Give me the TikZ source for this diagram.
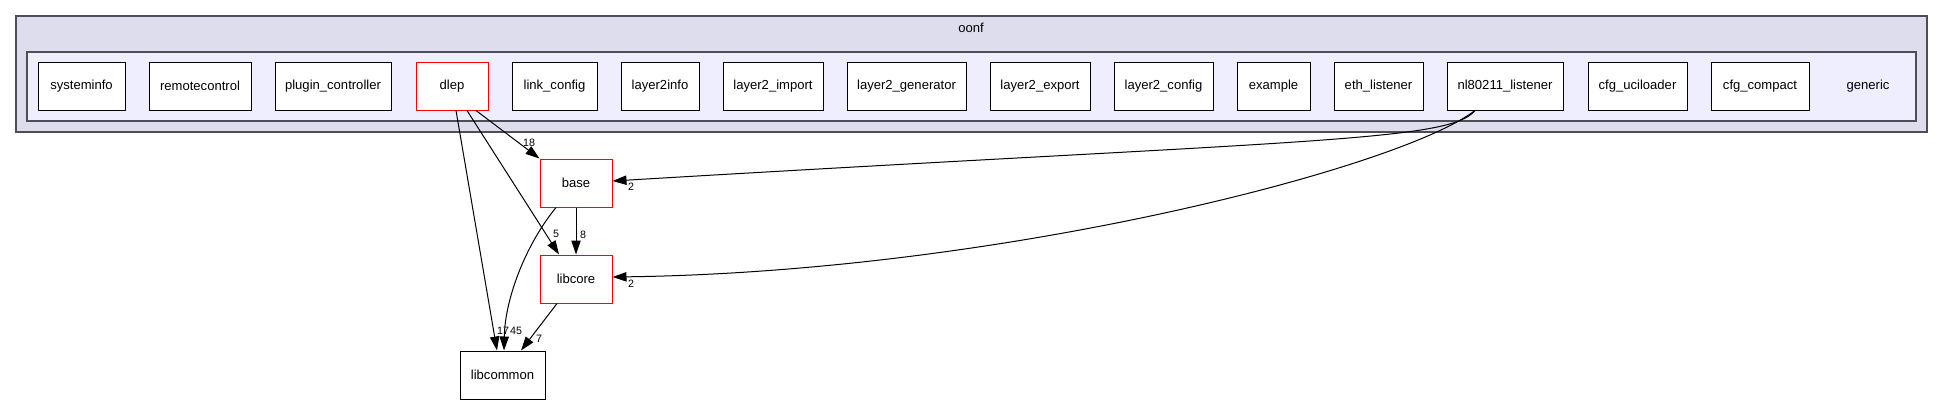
\documentclass[tikz,border=0pt]{standalone}
\usepackage{fontspec}
\setmainfont{Liberation Sans}
\usetikzlibrary{arrows.meta,calc}
\definecolor{outerfill}{HTML}{DDDDEE}
\definecolor{innerfill}{HTML}{EEEEFF}
\definecolor{clusterline}{HTML}{4E4E56}
\tikzset{
  dirbox/.style={draw=black, fill=white, line width=0.75pt, minimum height=36pt, inner sep=0pt, font=\fontsize{9.8}{12}\selectfont},
  reddir/.style={dirbox, draw=red},
  boxw/.style={minimum width=#1*0.75pt},
  cluster/.style={draw=clusterline, line width=1.1pt},
  dep/.style={line width=0.75pt, -{Triangle[length=10.5pt, width=7pt]}},
  num/.style={font=\fontsize{8}{9}\selectfont, inner sep=0pt},
}
\begin{document}
\begin{tikzpicture}[x=0.75pt, y=-0.75pt]
    \useasboundingbox (0,0) rectangle (1943,404);

    % Cluster oonf and inner cluster generic
    \draw[cluster, fill=outerfill] (16,16) rectangle (1927,132);
    \draw[cluster, fill=innerfill] (27,52) rectangle (1916,121);
    \node[font=\fontsize{9.8}{12}\selectfont] (oonf) at (971,28) {oonf};
    \node[font=\fontsize{9.8}{12}\selectfont] (generic) at (1868,86) {generic};

    % Directories inside generic
    \node[dirbox, boxw=87] (systeminfo) at (81.5,86) {systeminfo};
    \node[dirbox, boxw=102] (remotecontrol) at (200,86) {remotecontrol};
    \node[dirbox, boxw=116] (plugin) at (333,86) {plugin\_controller};
    \node[reddir, boxw=72] (dlep) at (452,86) {dlep};
    \node[dirbox, boxw=85] (linkcfg) at (554.5,86) {link\_config};
    \node[dirbox, boxw=78] (l2info) at (660,86) {layer2info};
    \node[dirbox, boxw=100] (l2import) at (773,86) {layer2\_import};
    \node[dirbox, boxw=119] (l2gen) at (906.5,86) {layer2\_generator};
    \node[dirbox, boxw=100] (l2export) at (1040,86) {layer2\_export};
    \node[dirbox, boxw=99] (l2config) at (1163.5,86) {layer2\_config};
    \node[dirbox, boxw=73] (example) at (1273.5,86) {example};
    \node[dirbox, boxw=89] (eth) at (1378.5,86) {eth\_listener};
    \node[dirbox, boxw=116] (nl) at (1505,86) {nl80211\_listener};
    \node[dirbox, boxw=99] (uciloader) at (1637.5,86) {cfg\_uciloader};
    \node[dirbox, boxw=98] (compact) at (1760,86) {cfg\_compact};

    % Directories below
    \node[reddir, boxw=72] (base) at (576,183) {base};
    \node[reddir, boxw=72] (libcore) at (576,279) {libcore};
    \node[dirbox, boxw=85] (libcommon) at (502.5,375) {libcommon};

    % dlep dependencies
    \draw[dep] ($(dlep.south)+(24,0)$) -- (base.north west);
    \draw[dep] ($(dlep.south)+(15,0)$) -- ($(libcore.north)+(-17,0)$);
    \draw[dep] ($(dlep.south)+(4,0)$) -- ($(libcommon.north)+(-5.5,0)$);

    % base dependencies
    \draw[dep] (base) -- (libcore);
    \draw[dep] ($(base.south)+(-20,0)$) .. controls ($(base.south)+(-51,38)$) and ($(libcommon.north)+(2.5,-51)$) .. ($(libcommon.north)+(1.5,0)$);

    % libcore -> libcommon
    \draw[dep] ($(libcore.south)+(-19,0)$) -- ($(libcommon.north)+(18.5,0)$);

    % nl80211_listener dependencies
    \draw[dep] ($(nl.south)+(-30,0)$) .. controls (1450,142) and (1300,140) .. ($(base.east)+(0,-2)$);
    \draw[dep] ($(nl.south)+(-30,0)$) .. controls (1400,168) and (1000,272) .. ($(libcore.east)+(0,-2)$);

    % Edge counts
    \node[num] (n18) at (529,143) {18};
    \node[num] (n5) at (556,234) {5};
    \node[num] (n8) at (583,235) {8};
    \node[num] (n17) at (503,331) {17};
    \node[num] (n45) at (516,331) {45};
    \node[num] (n7) at (539,339) {7};
    \node[num] (n2a) at (631,187) {2};
    \node[num] (n2b) at (631,284) {2};
\end{tikzpicture}
\end{document}
